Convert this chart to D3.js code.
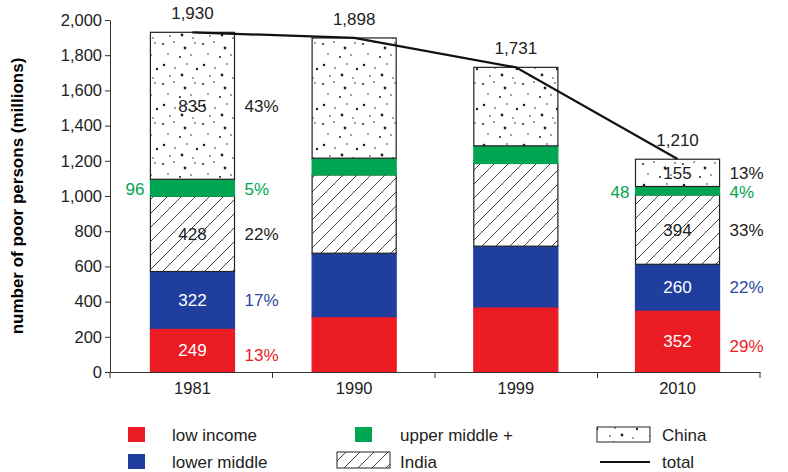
<!DOCTYPE html><html><head><meta charset="utf-8">
<script src="https://cdn.jsdelivr.net/npm/d3@7"></script>
<style>body{margin:0;background:#fff}text{font-family:"Liberation Sans",Arial,sans-serif}</style></head><body>
<svg id="c" width="788" height="472"></svg>
<script>
const years=["1981","1990","1999","2010"];
const lowIncome=[249,315,370,352];
const lowerMiddle=[322,360,345,260];
const india=[428,445,470,394];
const upperMiddle=[96,95,100,48];
const china=[835,683,446,155];
const totals=[1930,1898,1731,1210];
const pct1981=["13%","17%","22%","5%","43%"];
const pct2010=["29%","22%","33%","4%","13%"];
const yTicks=[0,200,400,600,800,1000,1200,1400,1600,1800,2000];

const svg=d3.select("#c");
const defs=svg.append("defs");
const dp=defs.append("pattern").attr("id","dots").attr("patternUnits","userSpaceOnUse").attr("width",40).attr("height",40);
dp.append("rect").attr("width",40).attr("height",40).attr("fill","#fff");
[[3,4,1],[14,2,0.8],[25,8,1.4],[35,3,0.8],[8,14,0.8],[20,17,1],[31,15,0.8],[4,25,1.3],[15,28,0.8],[27,24,0.8],[37,29,1.2],[10,36,0.8],[22,35,1.4],[33,38,0.8]]
 .forEach(d=>dp.append("circle").attr("cx",d[0]).attr("cy",d[1]).attr("r",d[2]).attr("fill","#222"));
const hp=defs.append("pattern").attr("id","hatch").attr("patternUnits","userSpaceOnUse").attr("width",14).attr("height",14);
hp.append("rect").attr("width",14).attr("height",14).attr("fill","#fff");
hp.append("path").attr("d","M0,14 L14,0 M-3,3 L3,-3 M11,17 L17,11").attr("stroke","#444").attr("stroke-width",1);

const x=d3.scaleBand().domain(years).range([110,760]).paddingInner(0.48).paddingOuter(0.25);
const y=d3.scaleLinear().domain([0,2000]).range([372,20]);

const series=[
 {k:"low",v:lowIncome,fill:"#ec1c24",stroke:"#ec1c24",tc:"#fff",pc:"#ec1c24"},
 {k:"lower",v:lowerMiddle,fill:"#1f3e9e",stroke:"#1f3e9e",tc:"#fff",pc:"#2e4a9e"},
 {k:"india",v:india,fill:"url(#hatch)",stroke:"#222",tc:"#222",pc:"#222"},
 {k:"upper",v:upperMiddle,fill:"#00a551",stroke:"#00a551",tc:"#00a551",pc:"#00a551"},
 {k:"china",v:china,fill:"url(#dots)",stroke:"#222",tc:"#222",pc:"#222"}];

const g=svg.append("g");
years.forEach((yr,i)=>{
 let base=0;
 series.forEach((s,j)=>{
  const v=s.v[i];
  g.append("rect").attr("x",x(yr)).attr("width",x.bandwidth()).attr("y",y(base+v)).attr("height",y(base)-y(base+v))
   .attr("fill",s.fill).attr("stroke",s.stroke).attr("stroke-width",1.2);
  if(i===0||i===3){
   const mid=y(base+v/2)+6;
   if(s.k==="upper"){
     g.append("text").attr("x",x(yr)-6).attr("y",mid+1).attr("text-anchor","end").attr("font-size",17).attr("fill",s.tc).text(v);
   } else {
     g.append("text").attr("x",x(yr)+x.bandwidth()/2).attr("y",mid).attr("text-anchor","middle").attr("font-size",17).attr("fill",s.tc).text(v);
   }
   const pct=(i===0?pct1981:pct2010)[j];
   g.append("text").attr("x",x(yr)+x.bandwidth()+10).attr("y",s.k==="low"?mid+5:mid+(s.k==="upper"?1:0)).attr("font-size",17).attr("fill",s.pc).text(pct);
  }
  base+=v;
 });
});

const line=d3.line().x((d,i)=>x(years[i])+x.bandwidth()/2).y(d=>y(d));
g.append("path").attr("d",line(totals)).attr("fill","none").attr("stroke","#111").attr("stroke-width",2.2);
totals.forEach((t,i)=>g.append("text").attr("x",x(years[i])+x.bandwidth()/2).attr("y",y(t)-13).attr("text-anchor","middle").attr("font-size",17).attr("fill","#222").text(d3.format(",")(t)));

const ya=svg.append("g").attr("transform","translate(110,0)").call(d3.axisLeft(y).tickValues(yTicks).tickFormat(d3.format(",")).tickSize(5).tickSizeOuter(0));
ya.selectAll("text").attr("font-size",16.5).attr("fill","#222");
const xa=svg.append("g").attr("transform","translate(0,372)").call(d3.axisBottom(x).tickSize(0).tickPadding(10));
xa.selectAll("text").attr("font-size",16.5).attr("fill","#222");
svg.selectAll(".domain,.tick line").attr("stroke","#333");
[110,272.5,435,597.5,760].forEach(px=>svg.append("line").attr("x1",px).attr("x2",px).attr("y1",372).attr("y2",378).attr("stroke","#333"));
svg.append("text").attr("transform","translate(23,196) rotate(-90)").attr("text-anchor","middle").attr("font-size",17).attr("font-weight","bold").attr("font-family","Liberation Sans Narrow,Liberation Sans,sans-serif").text("number of poor persons (millions)");

const L=svg.append("g").attr("font-size",17).attr("fill","#222");
L.append("rect").attr("x",128).attr("y",427).attr("width",17).attr("height",15).attr("fill","#ec1c24");
L.append("text").attr("x",172).attr("y",441).text("low income");
L.append("rect").attr("x",128).attr("y",454).attr("width",17).attr("height",15).attr("fill","#1f3e9e");
L.append("text").attr("x",172).attr("y",468).text("lower middle");
L.append("rect").attr("x",355).attr("y",427).attr("width",17).attr("height",15).attr("fill","#00a551");
L.append("text").attr("x",400).attr("y",441).text("upper middle +");
L.append("rect").attr("x",337).attr("y",452).attr("width",53).attr("height",16).attr("fill","url(#hatch)").attr("stroke","#222");
L.append("text").attr("x",400).attr("y",468).text("India");
L.append("rect").attr("x",597).attr("y",427).attr("width",53).attr("height",15).attr("fill","url(#dots)").attr("stroke","#222");
L.append("text").attr("x",662).attr("y",441).text("China");
L.append("line").attr("x1",600).attr("x2",650).attr("y1",462).attr("y2",462).attr("stroke","#111").attr("stroke-width",2.2);
L.append("text").attr("x",662).attr("y",468).text("total");
</script></body></html>
